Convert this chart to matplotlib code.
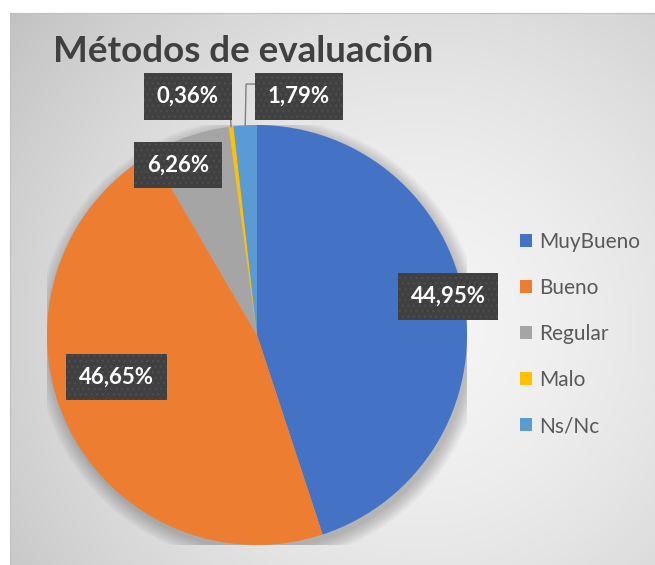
import numpy as np
import matplotlib
matplotlib.use("Agg")
import matplotlib.pyplot as plt
from matplotlib.patches import Patch, Circle

categories = ["MuyBueno", "Bueno", "Regular", "Malo", "Ns/Nc"]
values = [44.95, 46.65, 6.26, 0.36, 1.79]
labels = ["44,95%", "46,65%", "6,26%", "0,36%", "1,79%"]
colors = ["#4472C4", "#ED7D31", "#A5A5A5", "#FFC000", "#5B9BD5"]
title = "Métodos de evaluación"

W, H = 655, 565
fig = plt.figure(figsize=(W / 100, H / 100), dpi=100)
fig.patch.set_facecolor("white")

# background chart area with radial gradient
bx0, by0, bx1, by1 = 10, 13, 655, 565
bg = fig.add_axes([bx0 / W, 1 - by1 / H, (bx1 - bx0) / W, (by1 - by0) / H])
gx, gy = np.meshgrid(np.linspace(bx0, bx1, 300), np.linspace(by0, by1, 260))
d = np.hypot((gx - 420) / 1.0, (gy - 330) / 1.0)
v = 0.96 - 0.17 * np.clip(d / 470, 0, 1.2) ** 1.6
bg.imshow(np.dstack([v, v, v]), extent=[0, 1, 0, 1], aspect="auto", origin="upper")
bg.set_xticks([]); bg.set_yticks([])
for s in bg.spines.values():
    s.set_color("#c0c0c0"); s.set_linewidth(0.8)
bg.spines["right"].set_visible(False)
bg.spines["bottom"].set_visible(False)

# pie axes
cx, cy, R = 257, 335, 210
ax = fig.add_axes([(cx - R) / W, 1 - (cy + R) / H, 2 * R / W, 2 * R / H])
ax.set_facecolor("none")
# soft shadow
for k in range(12):
    ax.add_patch(Circle((0.012, -0.025), 1.0 + 0.006 * k, color="black", alpha=0.018, lw=0, zorder=0))
wedges, _ = ax.pie(values, colors=colors, startangle=90, counterclock=False,
                   wedgeprops=dict(linewidth=0))
for w in wedges:
    w.set_zorder(2)
ax.set_xlim(-1, 1); ax.set_ylim(-1, 1)
ax.set_aspect("equal")
ax.axis("off")

font = "Lato"
box = dict(boxstyle="square,pad=0.58", fc="#404040", ec="#4d4d4d", lw=0, hatch="...")

def mid(w):
    a = np.deg2rad((w.theta1 + w.theta2) / 2)
    return np.cos(a), np.sin(a)

# label placement (layout positions in pie units)
label_pos = [(0.91, 0.185), (-0.67, -0.20), (-0.375, 0.81), (-0.33, 1.135), (0.20, 1.135)]
for i, (w, lab) in enumerate(zip(wedges, labels)):
    tx, ty = label_pos[i]
    ax.text(tx, ty, lab, ha="center", va="center", color="white", fontsize=16,
            fontweight="bold", family=font, bbox=box, zorder=5, clip_on=False)

# leader lines
mx, my = mid(wedges[3])
ax.plot([-0.129, mx], [1.086, my], color="#7f7f7f", lw=1, zorder=4, clip_on=False)
mx, my = mid(wedges[4])
ax.plot([0.005, -0.052, mx], [1.195, 1.195, my], color="#7f7f7f", lw=1, zorder=4, clip_on=False)

fig.text(243 / W, 1 - 52 / H, title, ha="center", va="center", fontsize=26.5,
         fontweight="bold", color="#404040", family=font)

handles = [Patch(facecolor=c, edgecolor="none") for c in colors]
leg = fig.legend(handles, categories, loc="center left", bbox_to_anchor=(501 / W, 1 - 334 / H),
                 frameon=False, labelcolor="#595959", handlelength=0.6,
                 handleheight=0.6, handletextpad=0.35, labelspacing=1.25,
                 prop=dict(family=font, size=15))

fig.savefig("out.png", dpi=100)
